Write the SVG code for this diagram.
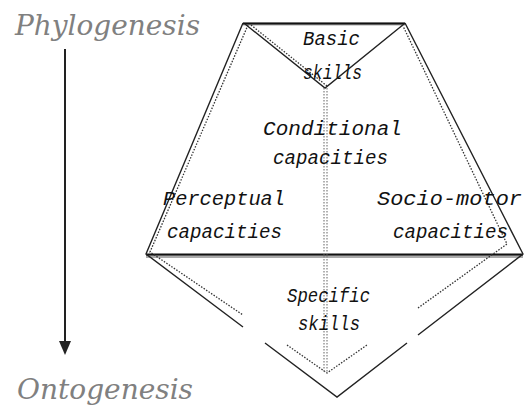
<svg xmlns="http://www.w3.org/2000/svg" width="526" height="409" viewBox="0 0 526 409">
<style>
.solid{fill:none;stroke:#222;stroke-width:1.4}
.dot{fill:none;stroke:#333;stroke-width:1.3;stroke-dasharray:1.5 1.5}
.vdot{fill:none;stroke:#888;stroke-width:1.3;stroke-dasharray:1.5 1.5}
.halo{fill:none;stroke:#aaa;stroke-width:3}
.axis{font-family:"DejaVu Serif",serif;font-style:italic;font-size:27px;fill:#808080}
.lbl{font-family:"Liberation Mono","DejaVu Sans Mono",monospace;font-style:italic;font-size:20px;fill:#111}
</style>
<g id="axis">
<text class="axis" x="15" y="35" textLength="185" lengthAdjust="spacingAndGlyphs">Phylogenesis</text>
<line x1="65" y1="49" x2="65" y2="343" stroke="#222" stroke-width="2"/>
<polygon points="59,341 71,341 65,355" fill="#222"/>
<text class="axis" x="17" y="399" textLength="176" lengthAdjust="spacingAndGlyphs">Ontogenesis</text>
</g>
<g id="connectors">
<line class="halo" x1="243" y1="24" x2="405" y2="24"/>
<line x1="243" y1="23.5" x2="405" y2="23.5" stroke="#111" stroke-width="2"/>
<line class="halo" x1="146" y1="256.5" x2="523" y2="256.5"/>
<line x1="146" y1="254.5" x2="523" y2="254.5" stroke="#111" stroke-width="2"/>
<polyline class="solid" points="243,23 146,254 243,327"/>
<polyline class="solid" points="265,343 337,397 407,343"/>
<polyline class="solid" points="418,335 523,254 405,23"/>
<polyline class="solid" points="245,24 325,88 404,24"/>
<line class="dot" x1="251" y1="25" x2="327" y2="86"/>
<polyline class="dot" points="248,25 150,252 243,315"/>
<polyline class="dot" points="287,345 327,373 367,345"/>
<polyline class="dot" points="418,308 507,244 403,26"/>
<line class="vdot" x1="324" y1="88" x2="324" y2="373"/>
<line class="vdot" x1="327" y1="88" x2="327" y2="373"/>
</g>
<g id="basic-skills">
<text class="lbl" x="303" y="45" textLength="57" lengthAdjust="spacingAndGlyphs">Basic</text>
<text class="lbl" x="303" y="79" textLength="59" lengthAdjust="spacingAndGlyphs">skills</text>
</g>
<g id="conditional-capacities">
<text class="lbl" x="263" y="135" textLength="139" lengthAdjust="spacingAndGlyphs">Conditional</text>
<text class="lbl" x="273" y="164" textLength="115" lengthAdjust="spacingAndGlyphs">capacities</text>
</g>
<g id="perceptual-capacities">
<text class="lbl" x="163" y="205" textLength="122" lengthAdjust="spacingAndGlyphs">Perceptual</text>
<text class="lbl" x="167" y="238" textLength="115" lengthAdjust="spacingAndGlyphs">capacities</text>
</g>
<g id="socio-motor-capacities">
<text class="lbl" x="377" y="205" textLength="145" lengthAdjust="spacingAndGlyphs">Socio-motor</text>
<text class="lbl" x="393" y="238" textLength="115" lengthAdjust="spacingAndGlyphs">capacities</text>
</g>
<g id="specific-skills">
<text class="lbl" x="287" y="302" textLength="83" lengthAdjust="spacingAndGlyphs">Specific</text>
<text class="lbl" x="298" y="330" textLength="62" lengthAdjust="spacingAndGlyphs">skills</text>
</g>
</svg>
